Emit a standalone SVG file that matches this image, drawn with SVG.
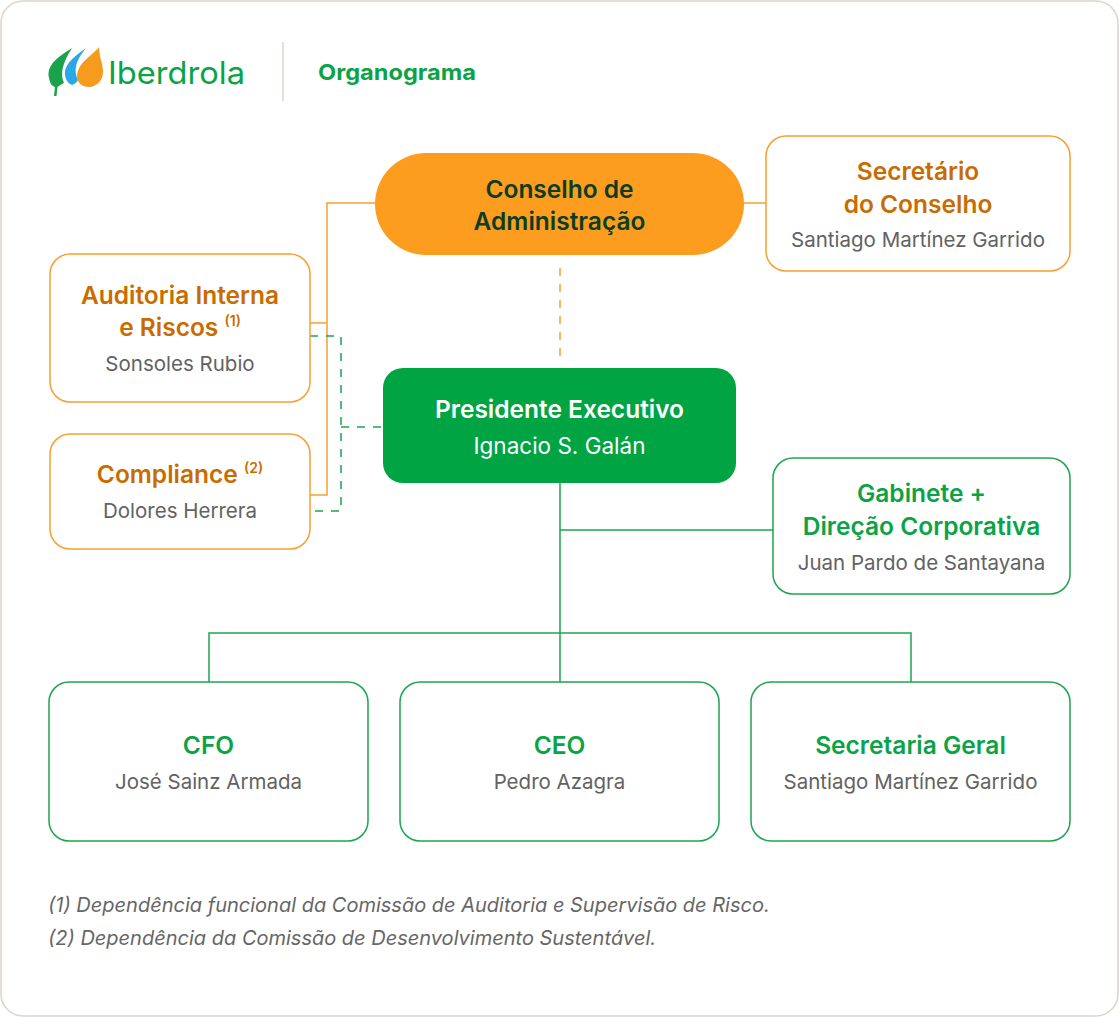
<svg xmlns="http://www.w3.org/2000/svg" width="1119" height="1017" viewBox="0 0 1119 1017">
<style>
.card{fill:#fff;stroke:#ddd4ca;stroke-width:1.5}
.ob{fill:#fff;stroke:#f7a030;stroke-width:1.5}
.gb{fill:#fff;stroke:#1aa64c;stroke-width:1.5}
.t{font-family:Inter,"Noto Sans",sans-serif;text-anchor:middle}
.ot{font-size:24.5px;font-weight:600;fill:#c96c00}
.gt{font-size:24.5px;font-weight:600;fill:#0aa345}
.nm{font-size:20.5px;fill:#626262}
.sup{font-size:14px;font-weight:600}
.ol{fill:none;stroke:#f7a030;stroke-width:1.5}
.gl{fill:none;stroke:#1aa64c;stroke-width:1.5}
.gd{fill:none;stroke:#1aa64c;stroke-width:1.5;stroke-dasharray:8 8}
.od{fill:none;stroke:#f7a030;stroke-width:1.5;stroke-dasharray:8 8}
.fn{font-family:Inter,"Noto Sans",sans-serif;font-size:20px;font-style:italic;fill:#666}
</style>
<rect class="card" x="1" y="1" width="1117" height="1015" rx="22"/>
<g id="header">
  <path d="M72 48 C60 56 46 64 49 78 C50 84 52 86 55 87 L54 96 L56.5 96 L57.5 87 C60 85 62 84 64 83 C60 74 62 64 72 48 Z" fill="#1aa34a"/>
  <path d="M86 48 C75 56 64 64 65 75 C66 81 69 84 72 85 C75 84 77 82 78 80 C73 70 76 60 86 48 Z" fill="#2aa7e6"/>
  <path d="M99 47 C92 56 78 62 77 76 C77 83 82 87 89 87 C97 87 103 80 103 72 C103 63 99 57 99 47 Z" fill="#f79b1e"/>
  <text x="108" y="84" font-family="Inter,'Noto Sans',sans-serif" font-size="31" fill="#0aa345" textLength="137" lengthAdjust="spacingAndGlyphs">Iberdrola</text>
  <line x1="283" y1="42" x2="283" y2="101" stroke="#ddd4ca" stroke-width="1.5"/>
  <text x="318" y="80" font-family="Inter,'Noto Sans',sans-serif" font-size="22" font-weight="700" fill="#0aa345" textLength="158" lengthAdjust="spacingAndGlyphs">Organograma</text>
</g>
<g id="connectors">
  <path class="ol" d="M375 203 H327 V495 H310 M310 323 H327"/>
  <path class="ol" d="M744 203 H766"/>
  <path class="od" d="M560 268 V362"/>
  <path class="gd" d="M310 336 H341 V511 H310"/>
  <path class="gd" d="M341 427 H383"/>
  <path class="gl" d="M560 483 V682 M560 530 H773 M209 682 V633 H911 V682"/>
</g>
<g id="conselho">
  <rect x="375" y="153" width="369" height="102" rx="51" fill="#fd9d1f"/>
  <text class="t" x="559.5" y="198" font-size="24.5" font-weight="600" fill="#0b3d22">Conselho de</text>
  <text class="t" x="559.5" y="230" font-size="24.5" font-weight="600" fill="#0b3d22">Administração</text>
</g>
<g id="secretario">
  <rect class="ob" x="766" y="136" width="304" height="135" rx="20"/>
  <text class="t ot" x="918" y="180">Secretário</text>
  <text class="t ot" x="918" y="213">do Conselho</text>
  <text class="t nm" x="918" y="247">Santiago Martínez Garrido</text>
</g>
<g id="auditoria">
  <rect class="ob" x="50" y="254" width="260" height="148" rx="20"/>
  <text class="t ot" x="180" y="304">Auditoria Interna</text>
  <text class="t ot" x="180" y="336">e Riscos <tspan class="sup" dy="-10">(1)</tspan></text>
  <text class="t nm" x="180" y="371">Sonsoles Rubio</text>
</g>
<g id="compliance">
  <rect class="ob" x="50" y="434" width="260" height="115" rx="20"/>
  <text class="t ot" x="180" y="483">Compliance <tspan class="sup" dy="-10">(2)</tspan></text>
  <text class="t nm" x="180" y="518">Dolores Herrera</text>
</g>
<g id="presidente">
  <rect x="383" y="368" width="353" height="115" rx="20" fill="#00a443"/>
  <text class="t" x="559.5" y="418" font-size="24.5" font-weight="600" fill="#fff">Presidente Executivo</text>
  <text class="t" x="559.5" y="454" font-size="22.5" fill="#fff">Ignacio S. Galán</text>
</g>
<g id="gabinete">
  <rect class="gb" x="773" y="458" width="297" height="136" rx="20"/>
  <text class="t gt" x="921.5" y="502">Gabinete +</text>
  <text class="t gt" x="921.5" y="535">Direção Corporativa</text>
  <text class="t nm" x="921.5" y="570">Juan Pardo de Santayana</text>
</g>
<g id="cfo">
  <rect class="gb" x="49" y="682" width="319" height="159" rx="20"/>
  <text class="t gt" x="208.5" y="754">CFO</text>
  <text class="t nm" x="208.5" y="789">José Sainz Armada</text>
</g>
<g id="ceo">
  <rect class="gb" x="400" y="682" width="319" height="159" rx="20"/>
  <text class="t gt" x="559.5" y="754">CEO</text>
  <text class="t nm" x="559.5" y="789">Pedro Azagra</text>
</g>
<g id="secretaria">
  <rect class="gb" x="751" y="682" width="319" height="159" rx="20"/>
  <text class="t gt" x="910.5" y="754">Secretaria Geral</text>
  <text class="t nm" x="910.5" y="789">Santiago Martínez Garrido</text>
</g>
<g id="notes">
  <text class="fn" x="48" y="912">(1) Dependência funcional da Comissão de Auditoria e Supervisão de Risco.</text>
  <text class="fn" x="48" y="945">(2) Dependência da Comissão de Desenvolvimento Sustentável.</text>
</g>
</svg>
